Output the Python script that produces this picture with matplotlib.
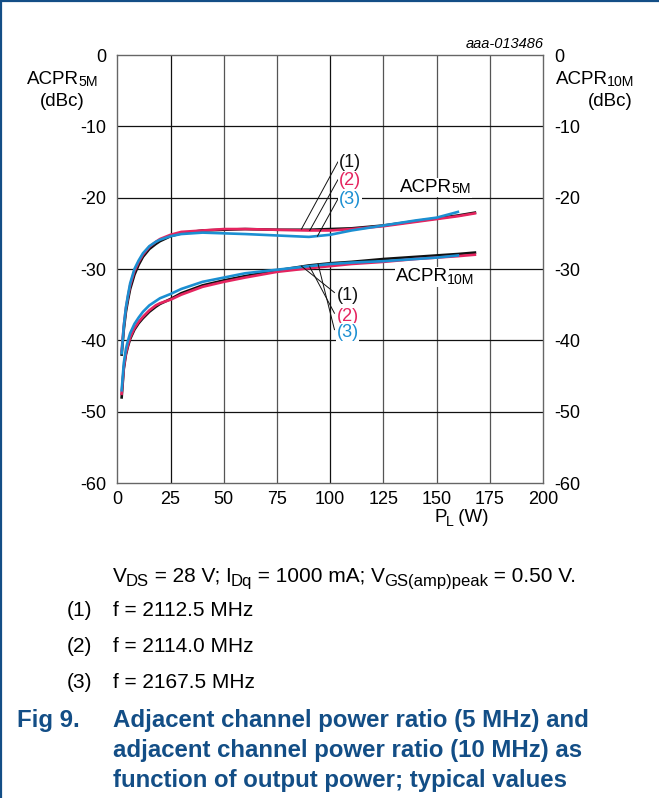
import matplotlib
matplotlib.use("Agg")
import matplotlib.pyplot as plt
from matplotlib.lines import Line2D

plt.rcParams["font.family"] = ["Liberation Sans", "DejaVu Sans"]
plt.rcParams["axes.unicode_minus"] = False

# ── data ───────────────────────────────────────────────────────────────────
pl = [2, 3, 4, 5, 6, 8, 10, 12, 15, 18, 20, 25, 30, 40, 50, 60,
      75, 90, 100, 110, 125, 140, 150, 160, 168]

# ACPR 5 MHz (dBc)
acpr5_1 = [-42.0, -38.5, -36.0, -34.3, -32.8, -30.8, -29.4, -28.3, -27.2, -26.5,
           -26.1, -25.4, -25.0, -24.6, -24.5, -24.4, -24.5, -24.5, -24.4, -24.3,
           -23.9, -23.3, -22.9, -22.5, -22.1]
acpr5_2 = [-41.5, -38.0, -35.5, -33.8, -32.3, -30.3, -29.0, -28.0, -26.9, -26.2,
           -25.8, -25.2, -24.8, -24.6, -24.4, -24.4, -24.5, -24.6, -24.6, -24.4,
           -24.0, -23.4, -23.0, -22.6, -22.2]
pl_3 = pl[:-1]
acpr5_3 = [-41.8, -38.0, -35.4, -33.6, -32.0, -30.0, -28.8, -27.8, -26.8, -26.2,
           -25.9, -25.4, -25.1, -24.9, -25.0, -25.1, -25.3, -25.5, -25.2, -24.6,
           -23.9, -23.2, -22.8, -22.0]

# ACPR 10 MHz (dBc)
acpr10_1 = [-48.0, -44.0, -42.0, -40.8, -39.8, -38.5, -37.6, -36.9, -36.0, -35.3,
            -34.9, -34.2, -33.4, -32.3, -31.6, -31.0, -30.2, -29.5, -29.2, -29.0,
            -28.6, -28.3, -28.1, -27.9, -27.7]
acpr10_2 = [-47.5, -43.8, -41.8, -40.6, -39.6, -38.3, -37.4, -36.7, -35.8, -35.1,
            -34.8, -34.3, -33.6, -32.5, -31.8, -31.2, -30.4, -29.9, -29.6, -29.3,
            -29.0, -28.6, -28.4, -28.2, -28.0]
acpr10_3 = [-47.0, -43.2, -41.2, -40.0, -39.0, -37.7, -36.8, -36.0, -35.1, -34.5,
            -34.1, -33.5, -32.8, -31.8, -31.2, -30.6, -30.1, -29.6, -29.3, -29.1,
            -28.9, -28.6, -28.4, -28.1]

x_ticks = [0, 25, 50, 75, 100, 125, 150, 175, 200]
y_ticks = [0, -10, -20, -30, -40, -50, -60]

BLACK = "#111111"
RED = "#e5245f"
BLUE = "#1b8fd2"
NAVY = "#134e86"

W, H = 659, 798


def fx(px):
    return px / W


def fy(py):
    return 1 - py / H


def rich(host, x, y, parts, size, transform, sub_scale=0.75, drop=0.0, **kw):
    """Draw text with real-size subscripts: parts = [(text, is_sub), ...]."""
    first = host.text(x, y, parts[0][0], fontsize=size, ha="left", va="center",
                      transform=transform, **kw)
    prev = first
    for txt, is_sub in parts[1:]:
        fs = size * sub_scale if is_sub else size
        dy = -drop * size if is_sub else 0
        dx = -0.6 if is_sub else 0
        prev = host.annotate(txt, xy=(1, 0), xycoords=(prev, first),
                             xytext=(dx, dy), textcoords="offset points",
                             fontsize=fs, ha="left", va="bottom", **kw)
    return first


fig = plt.figure(figsize=(W / 100, H / 100), dpi=100)

# full-figure axes for the free text around the chart
bg = fig.add_axes([0, 0, 1, 1])
bg.set_xlim(0, 1)
bg.set_ylim(0, 1)
bg.axis("off")
ft = bg.transAxes

ax = fig.add_axes([fx(117.4), fy(483), (543 - 117.4) / W, (483 - 55) / H])

ax.set_xlim(0, 200)
ax.set_ylim(-60, 0)

# grid
for xv in x_ticks[1:-1]:
    c = BLACK if xv in (25, 100) else "#555555"
    ax.axvline(xv, color=c, lw=0.9, zorder=1)
for yv in y_ticks[1:-1]:
    ax.axhline(yv, color=BLACK, lw=0.9, zorder=1)

for s in ax.spines.values():
    s.set_color("#666666")
    s.set_linewidth(1.0)

ax.set_xticks(x_ticks)
ax.set_yticks(y_ticks)
ax.tick_params(length=0, labelsize=13)
ax.tick_params(axis="y", labelright=True, pad=8)
ax.tick_params(axis="x", pad=6)

# curves
lw = 1.9
ax.plot(pl, acpr5_1, color=BLACK, lw=lw, zorder=3)
ax.plot(pl, acpr10_1, color=BLACK, lw=lw, zorder=3)
ax.plot(pl, acpr5_2, color=RED, lw=lw, zorder=4)
ax.plot(pl, acpr10_2, color=RED, lw=lw, zorder=4)
ax.plot(pl_3, acpr5_3, color=BLUE, lw=lw, zorder=5)
ax.plot(pl_3, acpr10_3, color=BLUE, lw=lw, zorder=5)

# leader lines + curve labels
up = [((86.5, -24.4), (103.6, -15.0)),
      ((90.4, -24.6), (103.6, -17.5)),
      ((94.0, -25.4), (103.6, -20.2))]
lo = [((86.5, -29.6), (102.0, -33.3)),
      ((90.4, -29.7), (102.0, -36.2)),
      ((94.3, -29.3), (102.0, -38.5))]
labels = ["(1)", "(2)", "(3)"]
colors = [BLACK, RED, BLUE]
bb = dict(facecolor="white", edgecolor="none", pad=0.5)
for (a, b), lab, c in zip(up, labels, colors):
    ax.add_line(Line2D([a[0], b[0]], [a[1], b[1]], color=BLACK, lw=0.7, zorder=6))
    ax.text(b[0] + 0.5, b[1] - 0.1, lab, color=c, fontsize=13, ha="left",
            va="center", bbox=bb, zorder=7)
for (a, b), lab, c in zip(lo, labels, colors):
    ax.add_line(Line2D([a[0], b[0]], [a[1], b[1]], color=BLACK, lw=0.7, zorder=6))
    ax.text(b[0] + 1.0, b[1] - 0.4, lab, color=c, fontsize=13, ha="left",
            va="center", bbox=bb, zorder=7)

wb = dict(facecolor="white", edgecolor="none", pad=1)
rich(ax, 132.8, -18.6, [("ACPR", False), ("5M", True)], 13.5, ax.transData,
     bbox=wb, zorder=7)
rich(ax, 131.0, -31.1, [("ACPR", False), ("10M", True)], 13.5, ax.transData,
     drop=0.1, bbox=wb, zorder=7)

# axis titles
rich(bg, fx(27), fy(80), [("ACPR", False), ("5M", True)], 13.5, ft)
bg.text(fx(62), fy(101), "(dBc)", fontsize=13.5, ha="center", va="center",
        transform=ft)
rich(bg, fx(556), fy(80), [("ACPR", False), ("10M", True)], 13.5, ft)
bg.text(fx(633), fy(101), "(dBc)", fontsize=13.5, ha="right", va="center",
        transform=ft)
bg.text(fx(544), fy(44), "aaa-013486", fontsize=10.5, style="italic",
        ha="right", va="center", transform=ft)
rich(bg, fx(434), fy(518), [("P", False), ("L", True), (" (W)", False)], 13.5, ft,
     drop=0.14)

# conditions
rich(bg, fx(113), fy(576),
     [("V", False), ("DS", True), (" = 28 V; I", False), ("Dq", True),
      (" = 1000 mA; V", False), ("GS(amp)peak", True), (" = 0.50 V.", False)],
     15, ft, sub_scale=0.8, drop=0.16)
freqs = ["f = 2112.5 MHz", "f = 2114.0 MHz", "f = 2167.5 MHz"]
for i, (lab, f) in enumerate(zip(labels, freqs)):
    y = 610 + 36 * i
    bg.text(fx(67), fy(y), lab, fontsize=15, ha="left", va="center", transform=ft)
    bg.text(fx(113), fy(y), f, fontsize=15, ha="left", va="center", transform=ft)

# caption
bg.text(fx(17), fy(720), "Fig 9.", fontsize=17.3, fontweight="bold",
        color=NAVY, ha="left", va="center", transform=ft)
caption = ["Adjacent channel power ratio (5 MHz) and",
           "adjacent channel power ratio (10 MHz) as",
           "function of output power; typical values"]
for i, line in enumerate(caption):
    bg.text(fx(113), fy(720 + 30.5 * i), line, fontsize=17.3, fontweight="bold",
            color=NAVY, ha="left", va="center", transform=ft)

# frame on the left and top edges
bg.plot([0.0015, 0.0015], [0, 1], color=NAVY, lw=1.6, transform=ft, clip_on=False)
bg.plot([0, 1], [0.9985, 0.9985], color=NAVY, lw=1.6, transform=ft, clip_on=False)

fig.savefig("out.png", dpi=100)
